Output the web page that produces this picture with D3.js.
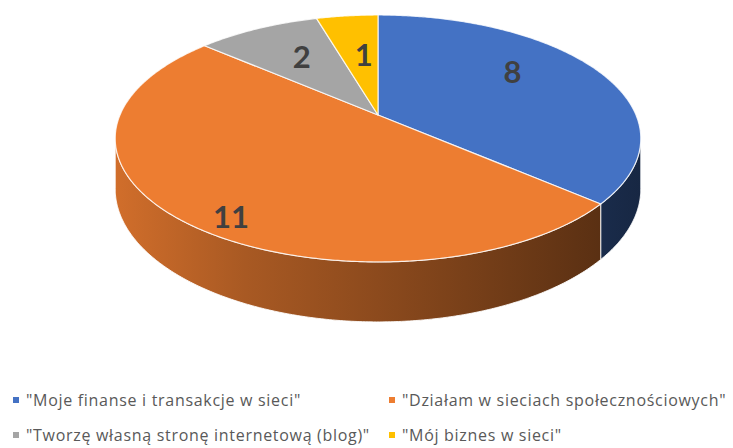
<!DOCTYPE html>
<html>
<head>
<meta charset="utf-8">
<script src="https://cdn.jsdelivr.net/npm/d3@7"></script>
<style>
  html, body { margin: 0; padding: 0; background: #fff; }
</style>
</head>
<body>
<div id="chart"></div>
<script>
// --- data ------------------------------------------------------------
const categories = [
  "\"Moje finanse i transakcje w sieci\"",
  "\"Działam w sieciach społecznościowych\"",
  "\"Tworzę własną stronę internetową (blog)\"",
  "\"Mój biznes w sieci\""
];
const values = [8, 11, 2, 1];
// ----------------------------------------------------------------------

(function () {
  const width = 733, height = 448;

  const color = d3.scaleOrdinal()
    .domain(categories)
    .range(["#4472C4", "#ED7D31", "#A5A5A5", "#FFC000"]);

  const svg = d3.select("#chart").append("svg")
    .attr("width", width)
    .attr("height", height)
    .style("display", "block");

  svg.append("rect").attr("width", width).attr("height", height).attr("fill", "#fff");

  // perspective tilted disc (like Excel 3D pie)
  const cx = 378, cy = 115;   // centre of the top face
  const B = 258, A = 119;     // horizontal / vertical half-axis
  const p = 0.19;             // perspective strength
  const H = 48.6;             // thickness

  function proj(theta, r) {
    const x = r * Math.sin(theta), z = r * Math.cos(theta);
    const d = 1 + p * z;
    return [cx + B * x / d, cy - A * z / d];
  }
  const depth = theta => H / (1 + p * Math.cos(theta));

  const pie = d3.pie().sort(null).value(d => d.value);
  const arcs = pie(categories.map((c, i) => ({ name: c, value: values[i] })));

  const line = d3.line();
  const step = Math.PI / 360;
  function samples(a0, a1) {
    const n = Math.max(2, Math.ceil((a1 - a0) / step));
    return d3.range(n + 1).map(i => a0 + (a1 - a0) * i / n);
  }

  // side gradients (light at left, dark at right)
  const defs = svg.append("defs");
  const shade = [[0, 0.88], [0.25, 0.71], [0.5, 0.59], [0.75, 0.47], [1, 0.34]];
  arcs.forEach((a, i) => {
    const base = d3.rgb(color(a.data.name));
    const g = defs.append("linearGradient")
      .attr("id", "side" + i)
      .attr("gradientUnits", "userSpaceOnUse")
      .attr("x1", cx - B * 1.02).attr("x2", cx + B * 1.02)
      .attr("y1", 0).attr("y2", 0);
    shade.forEach(([o, k]) => {
      g.append("stop")
        .attr("offset", o)
        .attr("stop-color", d3.rgb(base.r * k, base.g * k, base.b * k));
    });
  });

  // visible part of the outer wall
  const wa = Math.acos(-p), wb = 2 * Math.PI - wa;

  const sides = svg.append("g");
  arcs.forEach((a, i) => {
    const a0 = Math.max(a.startAngle, wa), a1 = Math.min(a.endAngle, wb);
    if (a1 <= a0) return;
    const ts = samples(a0, a1);
    const top = ts.map(t => proj(t, 1));
    const bot = ts.map(t => { const q = proj(t, 1); return [q[0], q[1] + depth(t)]; }).reverse();
    sides.append("path")
      .attr("d", line(top.concat(bot)) + "Z")
      .attr("fill", `url(#side${i})`)
      .attr("stroke", "#fff")
      .attr("stroke-opacity", 0.85)
      .attr("stroke-width", 1);
  });

  // top faces
  svg.append("g")
    .selectAll("path")
    .data(arcs)
    .join("path")
      .attr("d", a => line([[cx, cy]].concat(samples(a.startAngle, a.endAngle).map(t => proj(t, 1)))) + "Z")
      .attr("fill", a => color(a.data.name))
      .attr("stroke", "#fff")
      .attr("stroke-opacity", 0.8)
      .attr("stroke-width", 1.2)
      .attr("stroke-linejoin", "round");

  // data labels
  const labelR = [0.69, 0.88, 0.64, 0.57];
  const labelShift = [-11, -7, 2, 2].map(d => d * Math.PI / 180);
  svg.append("g")
    .selectAll("text")
    .data(arcs)
    .join("text")
      .attr("transform", (a, i) => {
        const q = proj((a.startAngle + a.endAngle) / 2 + labelShift[i], labelR[i]);
        return `translate(${q[0]},${q[1]})`;
      })
      .attr("text-anchor", "middle")
      .attr("dominant-baseline", "central")
      .style("font-family", "Lato, 'Open Sans', sans-serif")
      .style("font-weight", "bold")
      .style("font-size", "31px")
      .style("fill", "#404040")
      .text(a => a.data.value);

  // legend (2 columns)
  const colX = [13, 389], rowY = [400, 435];
  const legend = svg.append("g")
    .selectAll("g")
    .data(categories)
    .join("g")
      .attr("transform", (d, i) => `translate(${colX[i % 2]},${rowY[Math.floor(i / 2)]})`);

  legend.append("rect")
    .attr("x", 0).attr("y", -3)
    .attr("width", 6).attr("height", 6)
    .attr("fill", d => color(d));

  legend.append("text")
    .attr("x", 13)
    .attr("dominant-baseline", "central")
    .style("font-family", "'Open Sans', sans-serif")
    .style("font-size", "16px")
    .style("letter-spacing", "0.7px")
    .style("fill", "#595959")
    .text(d => d);
})();
</script>
</body>
</html>
